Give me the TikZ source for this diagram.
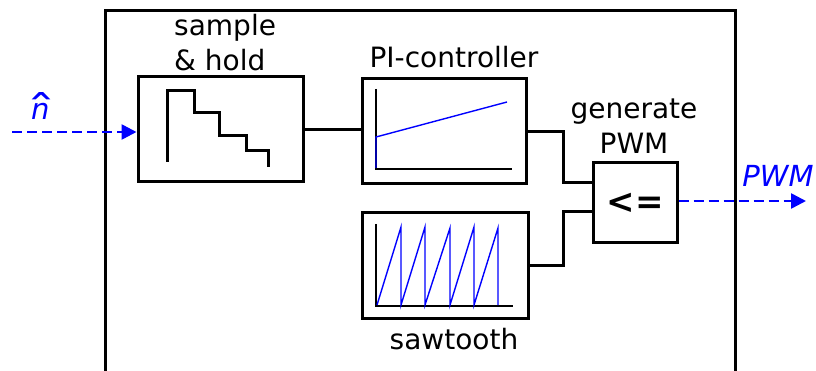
\documentclass[tikz,border=0pt]{standalone}
\usepackage{fontspec}
\setmainfont{DejaVu Sans}
\usetikzlibrary{arrows.meta,calc}
\begin{document}
\begin{tikzpicture}[x=1pt,y=-1pt,
  wire/.style={line width=3pt},
  blockbox/.style={draw,line width=3pt,minimum width=#1,inner sep=0pt},
  sig/.style={draw=blue,line width=2.6pt,dash pattern=on 10pt off 5pt,
    -{Triangle[length=15pt,width=15pt,fill=blue]}},
  axis/.style={line width=2.6pt},
  trace/.style={draw=blue,line width=1.4pt},
  lbl/.style={font=\fontsize{28}{34}\selectfont,align=center,inner sep=0pt},
  sigl/.style={font=\fontsize{29}{34}\selectfont\itshape,text=blue,inner sep=0pt}]
\useasboundingbox (0,0) rectangle (816,371);
\clip (0,0) rectangle (816,371);
% enclosing system frame (open below the page edge)
\draw[wire] (105,390) -- (105,11) -- (735,11) -- (735,390);

% blocks
\node[blockbox=165pt,minimum height=105pt] (sh)  at (220.5,129.5) {};
\node[blockbox=164pt,minimum height=105pt] (pi)  at (444,131.5) {};
\node[blockbox=166pt,minimum height=105pt] (saw) at (445,265.5) {};
\node[blockbox=84pt,minimum height=80pt]   (cmp) at (635,203)
  {\fontsize{34}{34}\selectfont\bfseries <=};

% block labels
\node[lbl,align=left,anchor=west] (shl) at (174,43) {sample\\[1pt]\& hold};
\node[lbl] (pil) at (454,57) {PI-controller};
\node[lbl] (gpl) at (634,126) {generate\\[1pt]PWM};
\node[lbl] (swl) at (454,339) {sawtooth};

% staircase inside sample & hold
\draw[wire] (167,162) -- (167,91) -- (194,91) -- (194,113) -- (219,113)
  -- (219,136) -- (246,136) -- (246,151) -- (268,151) -- (268,167);

% PI-controller response
\draw[axis] (376,89) -- (376,169) -- (512,169);
\draw[trace] (376,168) -- (376,137) -- (507,102);

% sawtooth waveform
\draw[axis] (376,224) -- (376,306) -- (513,306);
\draw[trace] (377,305) -- (401,227) -- (401,305) -- (425,227) -- (425,305)
  -- (450,228) -- (450,305) -- (474,227) -- (474,305) -- (498,228) -- (498,305);

% internal wiring
\draw[wire] (sh.east) -- (sh.east -| pi.west);
\draw[wire] (pi.east) -- ++(36,0) |- ([yshift=-21pt]cmp.north west);
\draw[wire] (saw.east) -- ++(34,0) |- ([yshift=-50pt]cmp.north west);

% input and output signals
\coordinate (in) at (12,132);
\coordinate (out) at (806,201);
\draw[sig] (in) -- (in -| sh.west);
\draw[sig] (cmp.east |- out) -- (out);
\node[sigl,anchor=base west] (nh) at (31,120) {n};
% circumflex over n, boxed to its visible ink only
\node[sigl,anchor=north] (hat) at (41.5,92)
  {\raisebox{-25.6pt}[7.2pt][0pt]{\scalebox{1.5}[1]{\fontsize{40}{40}\selectfont\upshape ˆ}}};
\node[sigl] (pwm) at (778,176) {PWM};
\end{tikzpicture}
\end{document}
